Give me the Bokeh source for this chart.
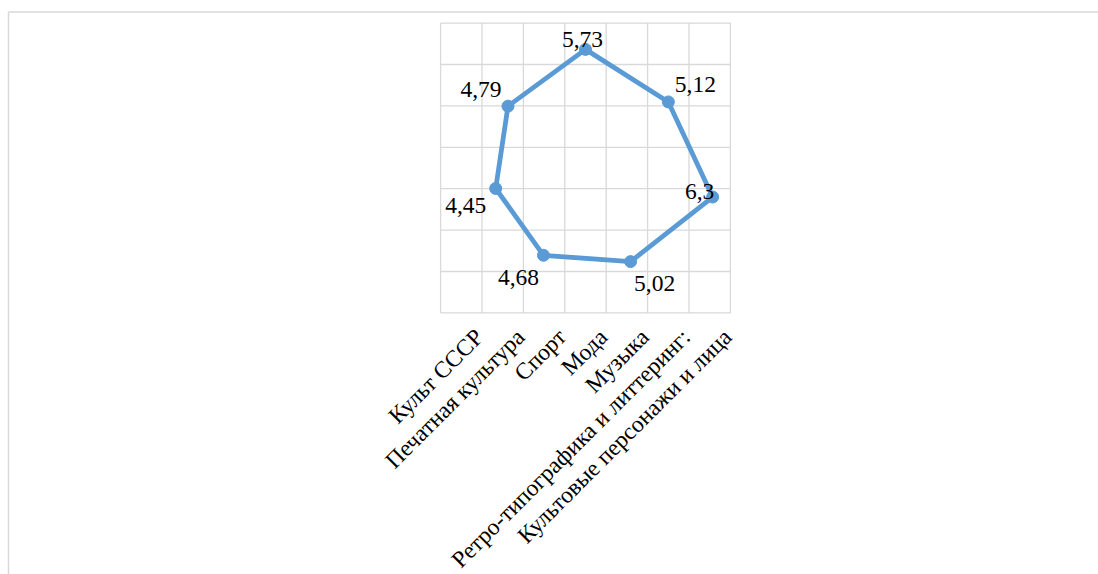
import math
from bokeh.plotting import figure
from bokeh.models import Range1d, ColumnDataSource
from bokeh.core.properties import value
from bokeh.embed import file_html
from bokeh.resources import INLINE

# ---- data -------------------------------------------------------------
categories = ["Культ СССР", "Печатная культура", "Спорт", "Мода", "Музыка",
              "Ретро-типографика и литтеринг:", "Культовые персонажи и лица"]
scores = [5.73, 5.12, 6.3, 5.02, 4.68, 4.45, 4.79]
score_labels = ["5,73", "5,12", "6,3", "5,02", "4,68", "4,45", "4,79"]

# ---- layout / style ---------------------------------------------------
W, H = 1098, 574
PX = 20.7               # pixels per value unit
CX, CY = 585.0, 167.5   # radar centre in figure pixels
GRID_HALF = 7           # grid spans -7..7 value units
GRID_STEP = 2
BLUE = "#5B9BD5"
GRID_COLOR = "#d9d9d9"
FONT = value("Liberation Serif")
# screen offsets of the value labels relative to their points (px)
label_dx = [-3, 27, -13, 24, -25, -30, -27]
label_dy = [-10, -17, -6, 22, 22, 17, -17]


def ux(px):
    return (px - CX) / PX


def uy(py):
    return (CY - py) / PX


p = figure(width=W, height=H, output_backend="svg", toolbar_location=None,
           x_range=Range1d(ux(0), ux(W)), y_range=Range1d(uy(H), uy(0)),
           x_axis_type=None, y_axis_type=None, min_border=0,
           outline_line_color=None, background_fill_color="white",
           border_fill_color="white")

# outer chart border (only top and left edges are within the window)
p.segment(x0=[ux(8), ux(8)], y0=[uy(11.5), uy(11.5)],
          x1=[ux(8), ux(W + 50)], y1=[uy(H + 50), uy(11.5)],
          line_color=GRID_COLOR, line_width=1.5)

# rectangular grid
g = list(range(-GRID_HALF, GRID_HALF + 1, GRID_STEP))
p.segment(x0=g, y0=[-GRID_HALF] * len(g), x1=g, y1=[GRID_HALF] * len(g),
          line_color=GRID_COLOR, line_width=1.3)
p.segment(x0=[-GRID_HALF] * len(g), y0=g, x1=[GRID_HALF] * len(g), y1=g,
          line_color=GRID_COLOR, line_width=1.3)

# radar series
n = len(scores)
theta = [2 * math.pi * i / n for i in range(n)]
xs = [v * math.sin(t) for v, t in zip(scores, theta)]
ys = [v * math.cos(t) for v, t in zip(scores, theta)]

p.line(xs + xs[:1], ys + ys[:1], line_color=BLUE, line_width=4.8,
       line_join="round")
p.scatter(xs, ys, size=12, fill_color=BLUE, line_color=BLUE)

src = ColumnDataSource(dict(x=xs, y=ys, t=score_labels, dx=label_dx, dy=label_dy))
p.text(x="x", y="y", text="t", x_offset="dx", y_offset="dy", source=src,
       text_font=FONT, text_font_size="23.5px", text_color="black",
       text_align="center", text_baseline="middle")

# category labels, rotated 45 degrees under the grid
cat_x = [-GRID_HALF + GRID_STEP * (i + 1) for i in range(len(categories))]
csrc = ColumnDataSource(dict(x=cat_x, y=[-GRID_HALF] * len(categories), t=categories))
p.text(x="x", y="y", text="t", source=csrc, angle=math.pi / 4,
       x_offset=-3, y_offset=20,
       text_font=FONT, text_font_size="23.5px", text_color="black",
       text_align="right", text_baseline="middle")

open("out.html", "w").write(file_html(p, INLINE))
